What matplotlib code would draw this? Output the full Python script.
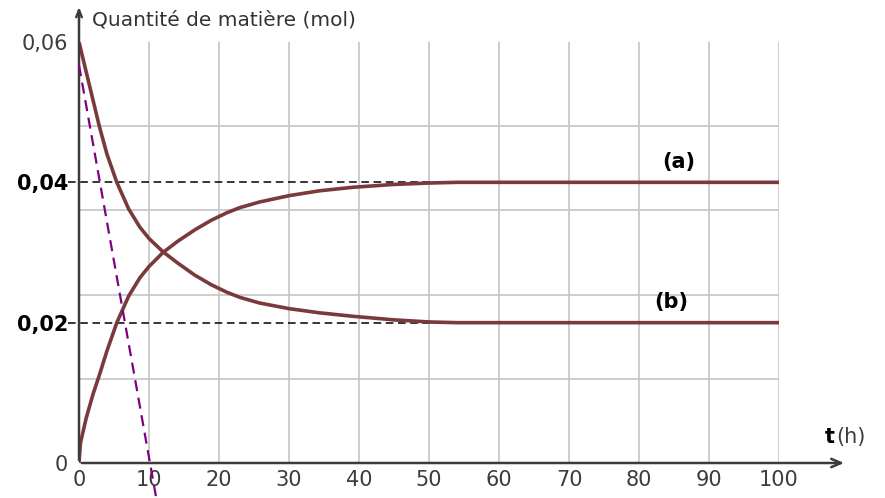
import numpy as np
import matplotlib
matplotlib.use("Agg")
import matplotlib.pyplot as plt
from matplotlib.ticker import MultipleLocator

# Courbe (a) : lecture sur le graphique
t_a = [0, 0.2, 1.0, 2.0, 2.9, 4.0, 5.4, 7.1, 8.7, 10.0, 12.0, 14.1, 16.5, 18.9,
       21.2, 23.0, 25.8, 30.0, 34.4, 39.2, 45.0, 50.0, 54.0, 100.0]
n_a = [0, 0.0028, 0.0063, 0.0098, 0.0125, 0.0160, 0.0200, 0.0238, 0.0264, 0.0280,
       0.0300, 0.0316, 0.0332, 0.0346, 0.0357, 0.0364, 0.0372, 0.0381, 0.0388,
       0.0393, 0.0397, 0.0399, 0.0400, 0.0400]

# Courbe (b)
t_b = [0, 0.24, 1.4, 2.9, 4.0, 5.4, 7.1, 8.7, 10.0, 12.0, 14.1, 16.5, 18.9, 21.2,
       23.0, 25.8, 30.0, 34.4, 39.2, 45.0, 50.0, 54.0, 100.0]
n_b = [0.0600, 0.0590, 0.0542, 0.0480, 0.0440, 0.0400, 0.0362, 0.0336, 0.0320,
       0.0301, 0.0285, 0.0268, 0.0254, 0.0243, 0.0236, 0.0228, 0.0220, 0.0214,
       0.0209, 0.0204, 0.0201, 0.0200, 0.0200]

# tangente à l'origine (violet)
t_tan = [0, 11.0]
n_tan = [0.0567, -0.0048]

# niveaux finaux en pointillés
niveaux = [0.04, 0.02]
t_niveaux = [-1.6, 54]

x_ticks = list(range(0, 101, 10))
y_ticks = [0, 0.02, 0.04, 0.06]
y_labels = ['0', '0,02', '0,04', '0,06']
y_gras = [False, True, True, False]

W, H = 885, 498
fig = plt.figure(figsize=(W / 100, H / 100), dpi=100)
ax = fig.add_axes([79 / W, 35 / H, 700 / W, 421 / H])

ax.set_xlim(0, 100)
ax.set_ylim(0, 0.06)
for s in ax.spines.values():
    s.set_visible(False)

gris = '#c9c9c9'
ax.set_xticks(x_ticks)
ax.set_xticklabels([str(v) for v in x_ticks])
ax.set_yticks(y_ticks)
ax.set_yticklabels(y_labels)
ax.yaxis.set_minor_locator(MultipleLocator(0.012))
ax.grid(True, which='major', axis='x', color=gris, lw=1.3)
ax.grid(True, which='minor', axis='y', color=gris, lw=1.3)
ax.set_axisbelow(True)
ax.tick_params(axis='both', which='both', length=0)
ax.tick_params(axis='x', pad=5, labelsize=15, labelcolor='#3c3c3c')
ax.tick_params(axis='y', pad=8, labelsize=15, labelcolor='#3c3c3c')
for lab, g in zip(ax.get_yticklabels(), y_gras):
    if g:
        lab.set_fontweight('bold')
        lab.set_color('black')

# pointillés horizontaux
for n in niveaux:
    ax.plot(t_niveaux, [n, n], color='black', lw=1.1, dashes=(5, 3), clip_on=False)

# courbes
brun = '#7a3a3c'
ax.plot(t_a, n_a, color=brun, lw=2.6, solid_joinstyle='round', solid_capstyle='round', zorder=3)
ax.plot(t_b, n_b, color=brun, lw=2.6, solid_joinstyle='round', solid_capstyle='round', zorder=3)

# tangente
ax.plot(t_tan, n_tan, color='#800080', lw=1.6, dashes=(5, 3), clip_on=False, zorder=4)

# axes avec flèches
axe = '#3c3c3c'
ax.annotate('', xy=(1.097, 0), xytext=(0, 0), xycoords='axes fraction',
            arrowprops=dict(arrowstyle='->,head_length=0.7,head_width=0.3', color=axe, lw=1.8),
            annotation_clip=False)
ax.annotate('', xy=(0, 1.09), xytext=(0, 0), xycoords='axes fraction',
            arrowprops=dict(arrowstyle='->,head_length=0.5,head_width=0.2', color=axe, lw=1.8),
            annotation_clip=False)

fig.text(92 / W, 1 - 20 / H, 'Quantité de matière (mol)', fontsize=14.5,
         color='#333333', va='center', ha='left')
fig.text(825 / W, 1 - 437 / H, 't', fontsize=15, fontweight='bold',
         color='black', va='center', ha='left')
fig.text(836 / W, 1 - 437 / H, '(h)', fontsize=15, color='#3c3c3c',
         va='center', ha='left')

ax.text(85.7, 0.0429, '(a)', fontsize=15, fontweight='bold', ha='center', va='center')
ax.text(84.6, 0.0229, '(b)', fontsize=15, fontweight='bold', ha='center', va='center')

fig.savefig('out.png', dpi=100)
